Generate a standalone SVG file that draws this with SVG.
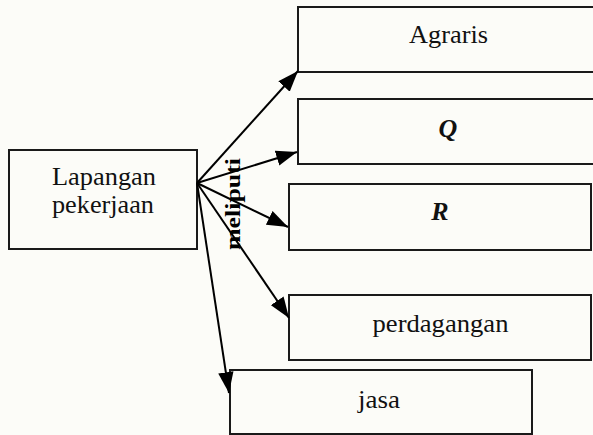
<svg xmlns="http://www.w3.org/2000/svg" width="593" height="435" viewBox="0 0 593 435">
<style>
.box{fill:none;stroke:#1a1a1a;stroke-width:2}
.t{font-family:"Liberation Serif","Times New Roman",serif;font-size:26px;fill:#111;text-anchor:middle}
.bi{font-weight:bold;font-style:italic}
.con{stroke:#000;stroke-width:2;fill:none;marker-end:url(#ah)}
</style>
<defs>
<marker id="ah" markerUnits="userSpaceOnUse" markerWidth="22" markerHeight="16" refX="19" refY="7" orient="auto" viewBox="0 0 20 14">
<path d="M0,0 L19,7 L0,14 Z" fill="#000"/>
</marker>
</defs>
<rect width="593" height="435" fill="#fcfcf8"/>
<g id="lapangan">
<rect class="box" x="9" y="150" width="188" height="99"/>
<text class="t" x="104" y="185" textLength="104" lengthAdjust="spacingAndGlyphs">Lapangan</text>
<text class="t" x="103" y="213" textLength="102" lengthAdjust="spacingAndGlyphs">pekerjaan</text>
</g>
<g id="agraris">
<rect class="box" x="298" y="7" width="300" height="65"/>
<text class="t" x="448.5" y="43" textLength="79" lengthAdjust="spacingAndGlyphs">Agraris</text>
</g>
<g id="q">
<rect class="box" x="298" y="99" width="300" height="65"/>
<text class="t bi" x="448" y="137">Q</text>
</g>
<g id="r">
<rect class="box" x="289" y="184" width="302" height="66"/>
<text class="t bi" x="440" y="220">R</text>
</g>
<g id="perdagangan">
<rect class="box" x="289" y="295" width="302" height="65"/>
<text class="t" x="440.5" y="332" textLength="136" lengthAdjust="spacingAndGlyphs">perdagangan</text>
</g>
<g id="jasa">
<rect class="box" x="230" y="370" width="302" height="64"/>
<text class="t" x="379" y="408" textLength="42" lengthAdjust="spacingAndGlyphs">jasa</text>
</g>
<g id="connectors">
<line class="con" x1="197" y1="183" x2="298" y2="71"/>
<line class="con" x1="197" y1="183" x2="297" y2="152"/>
<line class="con" x1="197" y1="183" x2="288" y2="227"/>
<line class="con" x1="197" y1="183" x2="289" y2="318"/>
<line class="con" x1="197" y1="183" x2="229" y2="393"/>
<text transform="translate(240,204) rotate(-90)" style="font-family:'Liberation Serif','Times New Roman',serif;font-size:20px;font-weight:bold;text-anchor:middle;fill:#000" textLength="92" lengthAdjust="spacingAndGlyphs">meliputi</text>
</g>
</svg>
